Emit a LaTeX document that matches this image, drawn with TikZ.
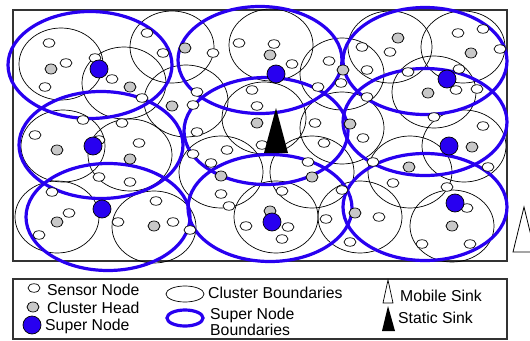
\documentclass[tikz,border=0pt]{standalone}
\usepackage{fontspec}
\setmainfont{Liberation Sans}
\usetikzlibrary{shapes.geometric}
\definecolor{snblue}{RGB}{40,0,240}
\definecolor{chgray}{RGB}{200,200,200}
\begin{document}
\begin{tikzpicture}[x=1pt,y=-1pt,
  sensor/.style={ellipse,draw,fill=white,line width=0.7pt,minimum width=12pt,minimum height=8.5pt,inner sep=0pt},
  head/.style={ellipse,draw,fill=chgray,line width=0.7pt,minimum width=12pt,minimum height=10pt,inner sep=0pt},
  supernode/.style={circle,draw,fill=snblue,line width=0.7pt,minimum size=18pt,inner sep=0pt},
  cluster/.style={ellipse,draw,line width=0.7pt,minimum width=84pt,minimum height=72pt,inner sep=0pt},
  snbound/.style={ellipse,draw=snblue,line width=3.2pt,minimum width=164pt,minimum height=107pt,inner sep=0pt},
  legtext/.style={anchor=base west,inner sep=0pt,font=\fontsize{15.8}{18}\selectfont},
  frame/.style={draw=black!80,line width=1.2pt}]

\useasboundingbox (0,0) rectangle (530,340);
\clip (0,0) rectangle (530,340);

% field
\draw[frame] (13,10) rectangle (507,261);

% cluster boundaries
\foreach \x/\y [count=\i] in {61/64,124/83,172/47,186/101,271/45,342/74,390/47,463/47,
  434/92,264/118,342/128,63/146,130/155,221/172,312/172,410/172,464/146,
  57/217,154/227,276/217,360/217,452/226}
  \node[cluster] (c\i) at (\x,\y) {};

% super node boundaries
\foreach \x/\y [count=\i] in {90/65,260/60,425/61,101/145,266/131,425/122,108/217,270/208,425/207}
  \node[snbound] (b\i) at (\x,\y) {};

% sensor nodes
\foreach \x/\y [count=\i] in {49/43,66/63,45/87,95/58,112/79,142/98,147/33,163/53,213/53,239/43,
  197/92,193/105,197/132,252/90,257/106,83/120,122/123,35/135,274/44,292/64,329/61,362/47,
  390/52,367/70,341/83,458/33,483/29,500/49,408/72,456/90,477/89,459/69,318/87,315/123,
  483/126,434/117,139/143,99/177,130/182,52/192,69/213,39/235,156/201,173/222,118/222,
  190/230,193/154,211/163,227/150,221/194,229/206,246/226,262/145,363/138,324/143,308/162,
  282/191,326/219,379/217,393/183,447/187,342/190,467/208,488/167,288/227,282/239,350/242,
  422/244,470/244,373/162,367/97,99/140}
  \node[sensor] (s\i) at (\x,\y) {};

% cluster heads
\foreach \x/\y [count=\i] in {51/69,130/87,185/48,172/106,257/123,270/55,343/70,398/38,471/53,
  428/93,350/124,57/150,130/159,57/222,154/226,221/176,312/177,409/167,355/213,452/226,
  472/147,270/211}
  \node[head] (h\i) at (\x,\y) {};

% super nodes
\foreach \x/\y [count=\i] in {99/69,276/74,447/79,93/146,102/209,272/222,449/146,455/203}
  \node[supernode] (n\i) at (\x,\y) {};

% static sink
\fill (264,153) -- (276,108) -- (288,153) -- cycle;
% mobile sink
\draw[line width=0.8pt,fill=white] (513,252) -- (524,207) -- (535,252) -- cycle;

% legend
\draw[frame] (13,279) rectangle (507,339);
\node[sensor] (lsensor) at (34,288) {};
\node[legtext] (tsensor) at (47,295) {Sensor Node};
\node[head] (lhead) at (33,307) {};
\node[legtext] (thead) at (47,313) {Cluster Head};
\node[supernode] (lsuper) at (32,325) {};
\node[legtext] (tsuper) at (45,330.5) {Super Node};
\node[cluster,minimum width=38pt,minimum height=16pt] (lclus) at (185,294) {};
\node[legtext] (tclus) at (208,298) {Cluster Boundaries};
\node[snbound,minimum width=36pt,minimum height=16pt] (lbound) at (185,318) {};
\node[legtext] (tbound1) at (210,319.5) {Super Node};
\node[legtext] (tbound2) at (210,335.5) {Boundaries};
\draw[line width=0.7pt] (383,303) -- (388,280) -- (393,303) -- cycle;
\node[legtext] (tmobile) at (400,301.5) {Mobile Sink};
\fill (382,331) -- (388,306) -- (395,331) -- cycle;
\node[legtext] (tstatic) at (398,323) {Static Sink};
\end{tikzpicture}
\end{document}
